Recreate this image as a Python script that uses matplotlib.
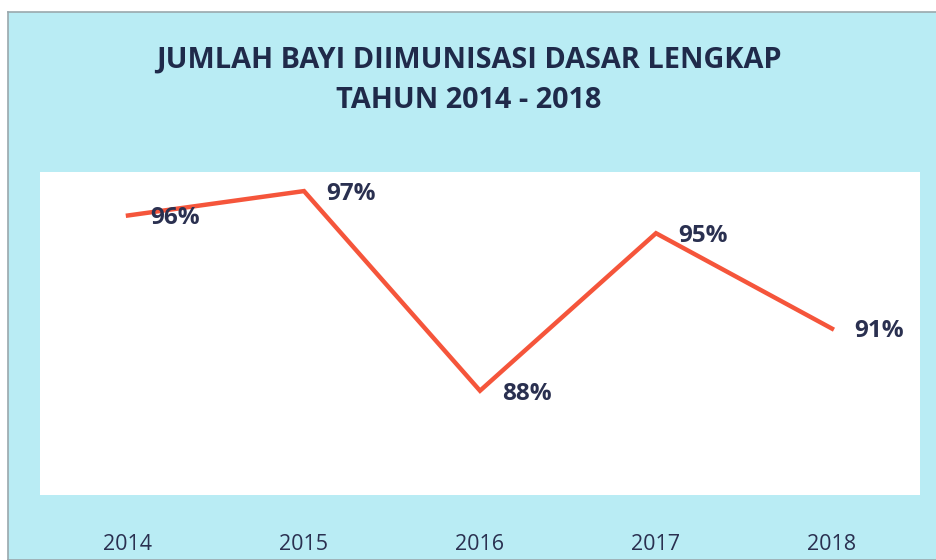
import matplotlib
matplotlib.use("Agg")
import matplotlib.pyplot as plt

years = ["2014", "2015", "2016", "2017", "2018"]
values = [95.9, 97.0, 88.0, 95.1, 90.8]
labels = ["96%", "97%", "88%", "95%", "91%"]
title_lines = ["JUMLAH BAYI DIIMUNISASI DASAR LENGKAP", "TAHUN 2014 - 2018"]

W, H = 937, 560
fig = plt.figure(figsize=(W / 100, H / 100), dpi=100)
fig.patch.set_facecolor("white")
bg = "#b9ecf4"
bgax = fig.add_axes([8 / W, 0, 1 - 8 / W, 1 - 12 / H], zorder=0)
bgax.set_facecolor(bg)
bgax.set_xticks([]); bgax.set_yticks([])
for s in bgax.spines.values():
    s.set_color("#9aa8ad"); s.set_linewidth(1.2)

ax = fig.add_axes([40 / W, 1 - 495 / H, 880 / W, 323 / H], zorder=1)
ax.set_facecolor("white")
x = list(range(len(years)))
ax.plot(x, values, color="#f5553b", linewidth=3.2, solid_joinstyle="miter")
for xi, v, lab in zip(x, values, labels):
    ax.annotate(lab, (xi, v), xytext=(16, -2), textcoords="offset points",
                ha="left", va="center", fontsize=17.5, fontweight="bold",
                color="#2a3050", family="Open Sans")
ax.set_xlim(-0.5, 4.5)
ax.set_ylim(83.3, 97.86)
ax.set_xticks(x)
ax.set_xticklabels(years, family="Open Sans", fontsize=15.5, color="#2a3050")
ax.tick_params(axis="x", length=0, pad=28)
ax.set_yticks([])
for s in ax.spines.values():
    s.set_visible(False)

fig.text(0.5, 1 - 60 / H, title_lines[0], ha="center", va="center",
         fontsize=20.8, fontweight="bold", color="#1f2a4a", family="Open Sans", zorder=3)
fig.text(0.5, 1 - 100 / H, title_lines[1], ha="center", va="center",
         fontsize=20.8, fontweight="bold", color="#1f2a4a", family="Open Sans", zorder=3)

fig.savefig("out.png", dpi=100, facecolor=fig.get_facecolor())
